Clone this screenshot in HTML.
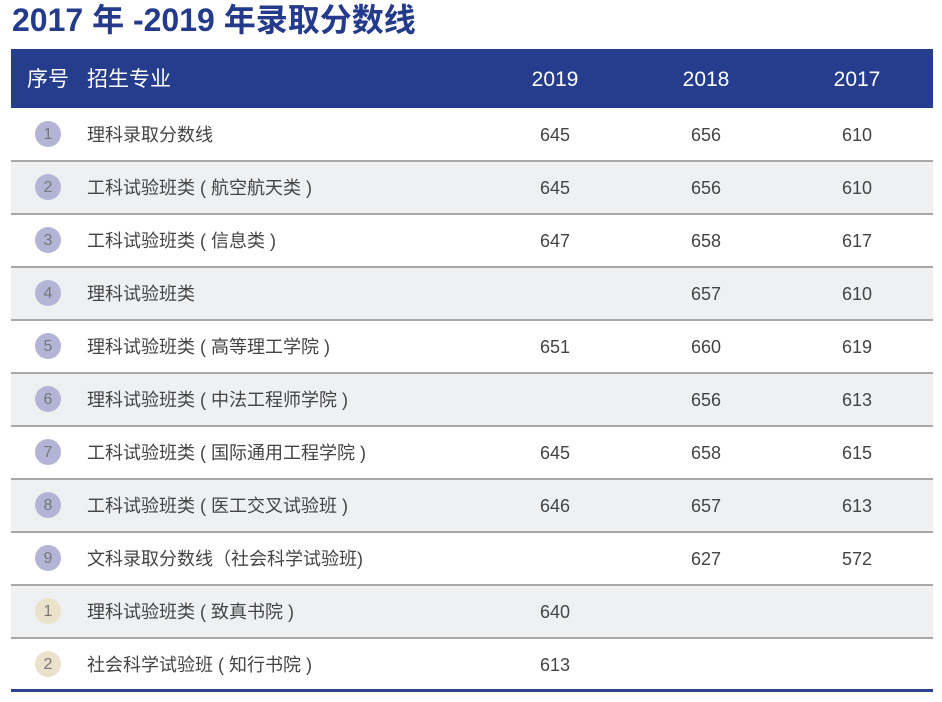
<!DOCTYPE html>
<html><head><meta charset="utf-8"><style>
body{margin:0;width:942px;height:702px;background:#fff;font-family:"Liberation Sans","Noto Sans CJK SC",sans-serif;position:relative;overflow:hidden}
.t{position:absolute;left:12px;top:0px;font-size:32px;font-weight:bold;color:#243a8a;line-height:40px;white-space:nowrap}
.hd{position:absolute;left:11px;top:49px;width:922px;height:59px;background:#253d8c;color:#fff;font-size:21px}
.hd span{position:absolute;top:17px;line-height:28px}
.r{position:absolute;left:11px;width:922px;height:53px;font-size:18px;color:#444}
.r.g{background:#eef0f2}
.r .b{position:absolute;left:0;right:0;top:-1px;height:2px;background:#a8a8a8}
.c{position:absolute;left:24px;top:13px;width:26px;height:26px;border-radius:50%;background:#b4b5d6;color:#777;text-align:center;line-height:27px;font-size:16px}
.c.y{background:#ebe2cc}
.n{position:absolute;left:76px;top:15px;line-height:24px;white-space:nowrap}
.v{position:absolute;top:15px;line-height:24px;width:80px;text-align:center}
.bot{position:absolute;left:11px;top:689px;width:922px;height:3px;background:#2e428e}
</style></head><body>
<div class="t">2017 年 -2019 年录取分数线</div>
<div class="hd"><span style="left:16px">序号</span><span style="left:76px">招生专业</span><span style="left:504px;width:80px;text-align:center">2019</span><span style="left:655px;width:80px;text-align:center">2018</span><span style="left:806px;width:80px;text-align:center">2017</span></div>

<div class="r" style="top:108px"><div class="c">1</div><div class="n">理科录取分数线</div><div class="v" style="left:504px">645</div><div class="v" style="left:655px">656</div><div class="v" style="left:806px">610</div></div>
<div class="r g" style="top:161px"><div class="b"></div><div class="c">2</div><div class="n">工科试验班类 ( 航空航天类 )</div><div class="v" style="left:504px">645</div><div class="v" style="left:655px">656</div><div class="v" style="left:806px">610</div></div>
<div class="r" style="top:214px"><div class="b"></div><div class="c">3</div><div class="n">工科试验班类 ( 信息类 )</div><div class="v" style="left:504px">647</div><div class="v" style="left:655px">658</div><div class="v" style="left:806px">617</div></div>
<div class="r g" style="top:267px"><div class="b"></div><div class="c">4</div><div class="n">理科试验班类</div><div class="v" style="left:655px">657</div><div class="v" style="left:806px">610</div></div>
<div class="r" style="top:320px"><div class="b"></div><div class="c">5</div><div class="n">理科试验班类 ( 高等理工学院 )</div><div class="v" style="left:504px">651</div><div class="v" style="left:655px">660</div><div class="v" style="left:806px">619</div></div>
<div class="r g" style="top:373px"><div class="b"></div><div class="c">6</div><div class="n">理科试验班类 ( 中法工程师学院 )</div><div class="v" style="left:655px">656</div><div class="v" style="left:806px">613</div></div>
<div class="r" style="top:426px"><div class="b"></div><div class="c">7</div><div class="n">工科试验班类 ( 国际通用工程学院 )</div><div class="v" style="left:504px">645</div><div class="v" style="left:655px">658</div><div class="v" style="left:806px">615</div></div>
<div class="r g" style="top:479px"><div class="b"></div><div class="c">8</div><div class="n">工科试验班类 ( 医工交叉试验班 )</div><div class="v" style="left:504px">646</div><div class="v" style="left:655px">657</div><div class="v" style="left:806px">613</div></div>
<div class="r" style="top:532px"><div class="b"></div><div class="c">9</div><div class="n">文科录取分数线（社会科学试验班)</div><div class="v" style="left:655px">627</div><div class="v" style="left:806px">572</div></div>
<div class="r g" style="top:585px"><div class="b"></div><div class="c y">1</div><div class="n">理科试验班类 ( 致真书院 )</div><div class="v" style="left:504px">640</div></div>
<div class="r" style="top:638px"><div class="b"></div><div class="c y">2</div><div class="n">社会科学试验班 ( 知行书院 )</div><div class="v" style="left:504px">613</div></div>
<div class="bot"></div>
</body></html>
